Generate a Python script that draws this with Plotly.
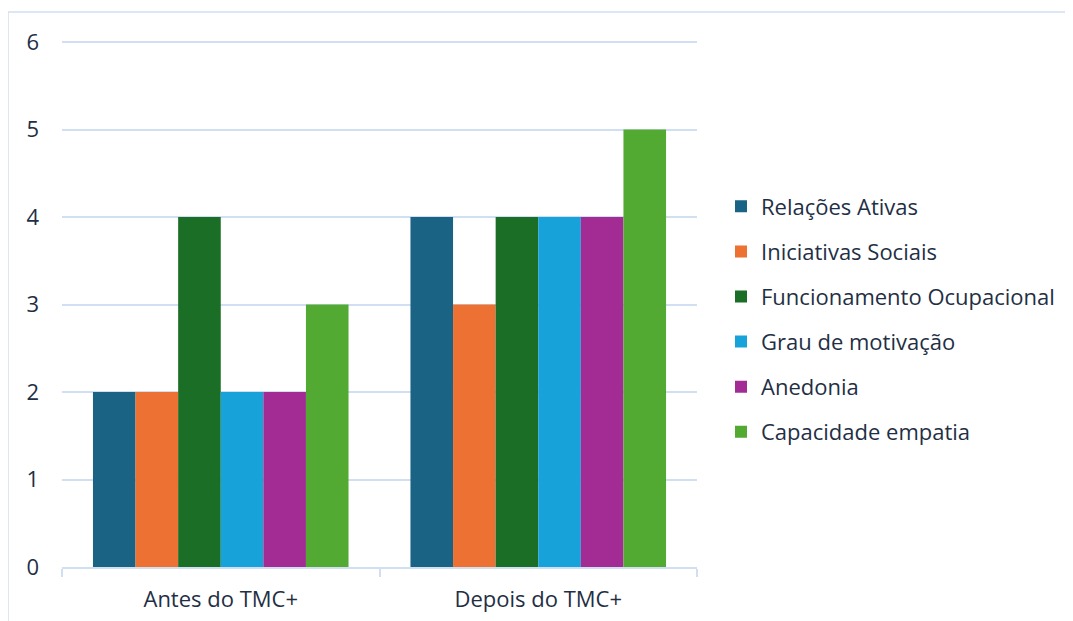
import plotly.graph_objects as go

categories = ["Antes do TMC+", "Depois do TMC+"]
series_names = ["Relações Ativas", "Iniciativas Sociais", "Funcionamento Ocupacional",
                "Grau de motivação", "Anedonia", "Capacidade empatia"]
relacoes_ativas = [2, 4]
iniciativas_sociais = [2, 3]
funcionamento_ocupacional = [4, 4]
grau_motivacao = [2, 4]
anedonia = [2, 4]
capacidade_empatia = [3, 5]
y_ticks = [0, 1, 2, 3, 4, 5, 6]

series_values = [relacoes_ativas, iniciativas_sociais, funcionamento_ocupacional,
                 grau_motivacao, anedonia, capacidade_empatia]
colors = ["#1a6385", "#ec7133", "#1a6e25", "#18a2da", "#a22c94", "#52aa33"]

FONT = "Open Sans"
TXT = "#1f2f45"
GRID = "#d0e0f2"
FS = 22

fig = go.Figure()
for i, (name, vals) in enumerate(zip(series_names, series_values)):
    fig.add_trace(go.Bar(x=categories, y=vals, name=name, marker=dict(color=colors[i], line=dict(width=0)),
                         legendgroup=f"g{i}"))

# page body has an 8px margin; figure coordinates are offset accordingly
# plot area extends 2px above the "6" gridline so that the gridline is drawn
top_pad = 2
plot_h = 525 + top_pad
fig.update_layout(
    width=1073, height=621,
    margin=dict(l=54, r=384, t=34 - top_pad, b=62),
    barmode="group", bargap=0.195, bargroupgap=0,
    plot_bgcolor="white", paper_bgcolor="white",
    font=dict(family=FONT, size=FS, color=TXT),
    legend=dict(x=(713 - 54) / 635, xanchor="left", y=(559 - 311.5) / plot_h, yanchor="middle",
                font=dict(family=FONT, size=FS, color=TXT),
                tracegroupgap=13.5, itemwidth=30),
    xaxis=dict(showline=True, linecolor=GRID, linewidth=1.5, ticks="outside", tickson="boundaries",
               ticklen=8, tickcolor=GRID, tickwidth=1.5, showgrid=False, ticklabelstandoff=12,
               tickfont=dict(family=FONT, size=FS, color=TXT)),
    yaxis=dict(range=[0, 6 + 6 * top_pad / 525], tickvals=y_ticks, showgrid=True, gridcolor=GRID,
               gridwidth=1.5, zeroline=False, showline=False, ticks="", ticklabelstandoff=22,
               tickfont=dict(family=FONT, size=FS, color=TXT)),
    shapes=[dict(type="rect", xref="paper", yref="paper",
                 x0=(0 - 54) / 635, x1=1.62, y0=-0.2, y1=1 + (32 - 4) / plot_h,
                 line=dict(color=GRID, width=1.5), fillcolor="rgba(0,0,0,0)", layer="below")],
)

fig.write_html("out.html")
